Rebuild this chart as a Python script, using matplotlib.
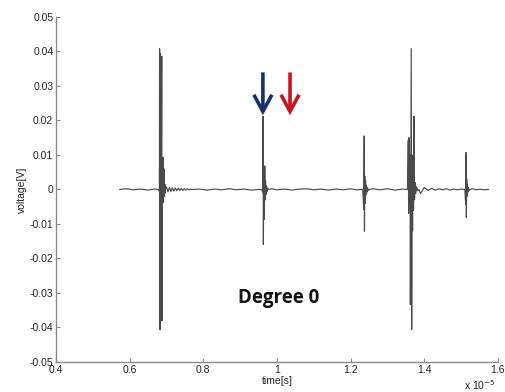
import numpy as np
import matplotlib.pyplot as plt
from matplotlib.ticker import FuncFormatter

plt.rcParams['font.family'] = ['Liberation Sans', 'DejaVu Sans']

# time in units of 1e-5 s, voltage in V
base0_t = [0.573, 0.59, 0.61, 0.63, 0.65, 0.665, 0.675]
base0_v = [0, 0.0002, -0.0001, 0.0001, -0.0002, 0.0001, 0]

burst1_t = [0.678, 0.6805, 0.6812, 0.6818, 0.6825, 0.6835, 0.6845, 0.6858, 0.687, 0.6878,
            0.6886, 0.6895, 0.6905, 0.6915, 0.693, 0.6945, 0.6955, 0.6965, 0.698]
burst1_v = [0, -0.0005, 0.0408, -0.0406, 0.0395, -0.0404, 0.003, -0.004, 0.0386, -0.038,
            0.005, -0.003, 0.0093, -0.0038, 0.006, -0.002, 0.0015, -0.001, 0.0008]

ring1_t = [0.700, 0.704, 0.708, 0.712, 0.716, 0.720, 0.724, 0.728, 0.732, 0.736,
           0.740, 0.744, 0.748, 0.752, 0.756, 0.760, 0.765, 0.770]
ring1_v = [0.0006, -0.0007, 0.0006, -0.0006, 0.0005, -0.0005, 0.0004, -0.0004, 0.0004, -0.0003,
           0.0003, -0.0003, 0.0002, -0.0002, 0.0002, -0.0001, 0.0001, 0]

base1_t = [0.79, 0.81, 0.83, 0.85, 0.87, 0.89, 0.91, 0.93, 0.95]
base1_v = [0.0001, -0.0002, 0.0001, -0.0001, 0.0002, -0.0001, 0.0001, -0.0002, 0]

burst2_t = [0.958, 0.9615, 0.9622, 0.9630, 0.9640, 0.9655, 0.9668, 0.9680, 0.969, 0.970,
            0.9715, 0.973, 0.975, 0.978]
burst2_v = [0, -0.0008, 0.0212, -0.0159, 0.004, -0.0087, 0.0068, -0.003, 0.0025, -0.0015,
            0.001, -0.0006, 0.0004, 0]

base2_t = [0.985, 1.00, 1.02, 1.04, 1.06, 1.08, 1.10, 1.12, 1.14, 1.16, 1.18, 1.20, 1.215, 1.23]
base2_v = [0.0002, -0.0001, 0.0001, -0.0002, 0.0001, 0.0002, -0.0001, 0.0001, -0.0002, 0.0001,
           -0.0001, 0.0002, -0.0001, 0]

burst3_t = [1.233, 1.2355, 1.2368, 1.2376, 1.2384, 1.2395, 1.2405, 1.2418, 1.243, 1.2445,
            1.246, 1.248, 1.251]
burst3_v = [0, -0.0058, 0.0155, -0.0121, 0.0039, -0.004, 0.0025, -0.0015, 0.0012, -0.0008,
            0.0005, -0.0003, 0]

base3_t = [1.26, 1.28, 1.30, 1.32, 1.34, 1.352]
base3_v = [0.0002, -0.0001, 0.0002, -0.0002, 0.0001, 0]

burst4_t = [1.3545, 1.3565, 1.3575, 1.3585, 1.3600, 1.3612, 1.3622, 1.3635, 1.3646, 1.3658,
            1.3670, 1.3682, 1.3695, 1.3708, 1.372, 1.3735, 1.375, 1.377, 1.379, 1.382, 1.385]
burst4_v = [0, 0.0142, -0.0069, 0.015, -0.004, 0.010, -0.0333, 0.012, 0.0408, -0.0406,
            0.008, -0.012, 0.010, -0.006, 0.0212, -0.003, 0.002, -0.0012, 0.0008, -0.0004, 0]

base4_t = [1.39, 1.40, 1.41, 1.42, 1.43, 1.44, 1.45, 1.46, 1.47, 1.48, 1.49, 1.50, 1.507]
base4_v = [-0.0012, 0.0006, -0.0003, 0.0003, -0.0002, 0.0002, -0.0001, 0.0002, -0.0002, 0.0001,
           -0.0001, 0.0001, 0]

burst5_t = [1.510, 1.5125, 1.5135, 1.5143, 1.5152, 1.5162, 1.5172, 1.5185, 1.520, 1.522, 1.525]
burst5_v = [0, -0.0043, 0.0107, -0.0082, 0.003, -0.002, 0.0015, -0.0008, 0.0005, -0.0003, 0]

base5_t = [1.53, 1.54, 1.55, 1.56, 1.574]
base5_v = [0.0002, -0.0001, 0.0001, -0.0001, 0]

t = np.concatenate([base0_t, burst1_t, ring1_t, base1_t, burst2_t, base2_t,
                    burst3_t, base3_t, burst4_t, base4_t, burst5_t, base5_t])
v = np.concatenate([base0_v, burst1_v, ring1_v, base1_v, burst2_v, base2_v,
                    burst3_v, base3_v, burst4_v, base4_v, burst5_v, base5_v])

# arrows (x position, colour)
arrow_x = [0.9617, 1.0354]
arrow_colors = ['#14306e', '#c8141e']
arrow_top, arrow_tip = 0.0339, 0.0215

fig = plt.figure(figsize=(5.05, 3.92), dpi=100)
ax = fig.add_axes([0.111, 0.0765, 0.875, 0.8805])

ax.plot(t, v, color='#4a4a4a', lw=0.85)

for x, c in zip(arrow_x, arrow_colors):
    ax.annotate('', xy=(x, arrow_tip), xytext=(x, arrow_top),
                arrowprops=dict(arrowstyle='->,head_length=1.2,head_width=0.65',
                                color=c, lw=2.6, shrinkA=0, shrinkB=0,
                                mutation_scale=10, joinstyle='miter', capstyle='butt'))

ax.text(1.005, -0.0328, 'Degree 0', fontsize=13.5, fontweight='bold',
        family=['Open Sans', 'DejaVu Sans'], ha='center', va='baseline', color='#111111')

ax.set_xlim(0.4, 1.6)
ax.set_ylim(-0.05, 0.05)
ax.set_xticks([0.4, 0.6, 0.8, 1.0, 1.2, 1.4, 1.6])
ax.set_yticks(np.arange(-0.05, 0.0501, 0.01))
ax.xaxis.set_major_formatter(FuncFormatter(lambda x, p: '%g' % round(x, 3)))
ax.yaxis.set_major_formatter(FuncFormatter(lambda y, p: '%g' % round(y, 3)))

for s in ['top', 'right']:
    ax.spines[s].set_visible(False)
for s in ['left', 'bottom']:
    ax.spines[s].set_color('#8a8a8a')
    ax.spines[s].set_linewidth(1.0)
ax.tick_params(direction='in', length=3, color='#8a8a8a', labelsize=7.5,
               labelcolor='#222222', pad=2)

ax.set_xlabel('time[s]', fontsize=7.5, color='#222222', labelpad=1)
ax.set_ylabel('voltage[V]', fontsize=7.5, color='#222222', labelpad=2)
ax.text(0.995, -0.068, r'x 10$^{-5}$', transform=ax.transAxes, fontsize=7.5,
        color='#222222', ha='right', va='center')

fig.savefig('out.png', dpi=100)
